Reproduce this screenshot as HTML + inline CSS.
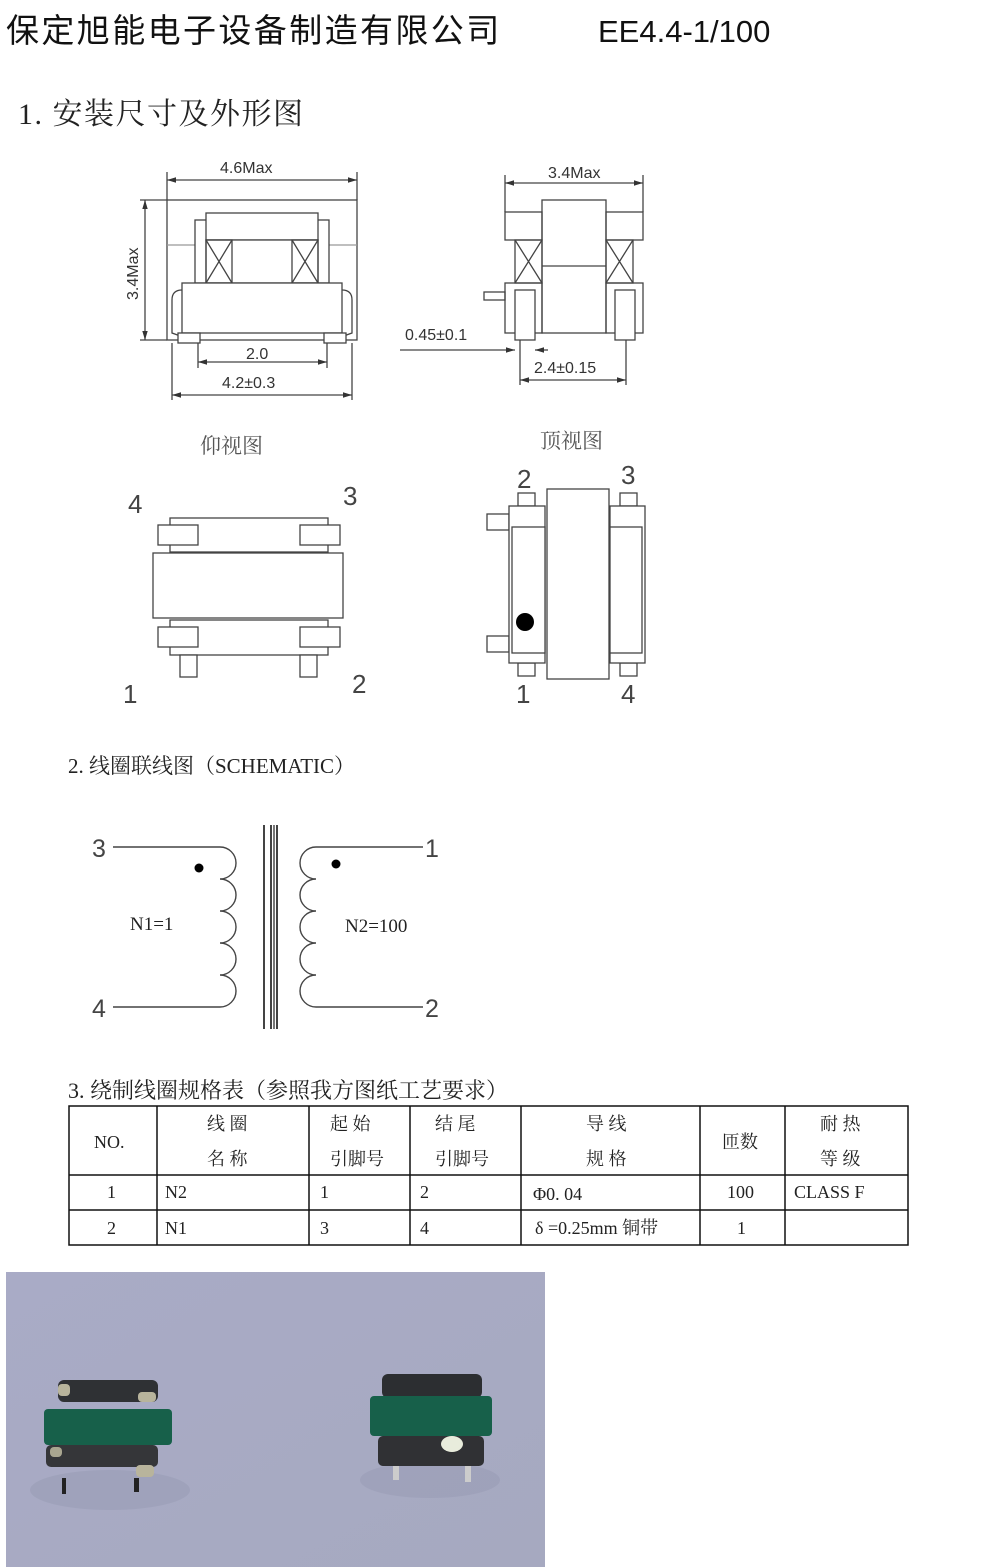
<!DOCTYPE html>
<html><head><meta charset="utf-8"><style>
html,body{margin:0;padding:0;background:#fff}
svg{display:block}
text{font-family:"Liberation Sans","Noto Sans CJK SC",sans-serif}
.s, .s text{font-family:"Liberation Serif","Noto Serif CJK SC",serif}
</style></head><body>
<svg width="1000" height="1567" viewBox="0 0 1000 1567" xmlns="http://www.w3.org/2000/svg">
<defs>
<marker id="a" viewBox="0 0 10 10" refX="10" refY="5" markerWidth="7" markerHeight="7" orient="auto-start-reverse"><path d="M0,2 L10,5 L0,8z" fill="#333"/></marker>
<linearGradient id="pg" x1="0" y1="0" x2="1" y2="1"><stop offset="0" stop-color="#a9abc6"/><stop offset="1" stop-color="#a6a9c0"/></linearGradient>
</defs>
<text x="6" y="42" font-size="33" letter-spacing="2.4" fill="#111" font-family="'Noto Sans CJK SC',sans-serif">保定旭能电子设备制造有限公司</text>
<text x="598" y="42" font-size="31" fill="#111">EE4.4-1/100</text>
<text x="18" y="124" font-size="30" letter-spacing="1.5" fill="#222" class="s">1. 安装尺寸及外形图</text>

<g fill="none" stroke="#444" stroke-width="1.3">
<rect x="167" y="200" width="190" height="140"/>
<line x1="167" y1="245" x2="357" y2="245" stroke="#999"/>
<rect x="195" y="220" width="134" height="63" fill="#fff"/>
<rect x="206" y="213" width="112" height="27" fill="#fff"/>
<rect x="206" y="240" width="112" height="43" fill="#fff"/>
<rect x="206" y="240" width="26" height="43"/><path d="M206,240L232,283M232,240L206,283"/>
<rect x="292" y="240" width="26" height="43"/><path d="M292,240L318,283M318,240L292,283"/>
<path d="M182,290 Q172,290 172,300 L172,333 L200,343" />
<path d="M342,290 Q352,290 352,300 L352,333 L324,343"/>
<rect x="182" y="283" width="160" height="50" fill="#fff"/>
<rect x="178" y="333" width="22" height="10" fill="#fff"/><rect x="324" y="333" width="22" height="10" fill="#fff"/>
<line x1="167" y1="180" x2="357" y2="180" marker-start="url(#a)" marker-end="url(#a)"/>
<line x1="167" y1="172" x2="167" y2="200"/><line x1="357" y1="172" x2="357" y2="200"/>
<line x1="145" y1="200" x2="145" y2="340" marker-start="url(#a)" marker-end="url(#a)"/>
<line x1="140" y1="200" x2="167" y2="200"/><line x1="140" y1="340" x2="167" y2="340"/>
<line x1="198" y1="362" x2="327" y2="362" marker-start="url(#a)" marker-end="url(#a)"/>
<line x1="198" y1="343" x2="198" y2="368"/><line x1="327" y1="343" x2="327" y2="368"/>
<line x1="172" y1="395" x2="352" y2="395" marker-start="url(#a)" marker-end="url(#a)"/>
<line x1="172" y1="343" x2="172" y2="400"/><line x1="352" y1="343" x2="352" y2="400"/>
<rect x="542" y="200" width="64" height="133" fill="#fff"/>
<line x1="542" y1="266" x2="606" y2="266"/>
<rect x="505" y="212" width="37" height="28"/><rect x="606" y="212" width="37" height="28"/>
<rect x="515" y="240" width="27" height="43"/><path d="M515,240L542,283M542,240L515,283"/>
<rect x="606" y="240" width="27" height="43"/><path d="M606,240L633,283M633,240L606,283"/>
<rect x="505" y="283" width="37" height="50"/><rect x="606" y="283" width="37" height="50"/>
<rect x="515" y="290" width="20" height="50" fill="#fff"/><rect x="615" y="290" width="20" height="50" fill="#fff"/>
<rect x="484" y="292" width="21" height="8"/>
<line x1="505" y1="183" x2="643" y2="183" marker-start="url(#a)" marker-end="url(#a)"/>
<line x1="505" y1="175" x2="505" y2="212"/><line x1="643" y1="175" x2="643" y2="212"/>
<line x1="400" y1="350" x2="515" y2="350" marker-end="url(#a)"/>
<line x1="548" y1="350" x2="535" y2="350" marker-end="url(#a)"/>
<line x1="520" y1="340" x2="520" y2="385"/><line x1="626" y1="340" x2="626" y2="385"/>
<line x1="520" y1="380" x2="626" y2="380" marker-start="url(#a)" marker-end="url(#a)"/>
</g>
<g font-size="16" fill="#333">
<text x="220" y="173">4.6Max</text>
<text x="548" y="178">3.4Max</text>
<text x="138" y="300" transform="rotate(-90 138 300)">3.4Max</text>
<text x="246" y="359">2.0</text>
<text x="222" y="388">4.2±0.3</text>
<text x="405" y="340">0.45±0.1</text>
<text x="534" y="373">2.4±0.15</text>
</g>
<text x="200" y="453" font-size="21" fill="#555" class="s">仰视图</text>
<text x="540" y="448" font-size="21" fill="#555" class="s">顶视图</text>

<g fill="#fff" stroke="#444" stroke-width="1.3">
<rect x="170" y="518" width="158" height="34"/>
<rect x="158" y="525" width="40" height="20"/><rect x="300" y="525" width="40" height="20"/>
<rect x="153" y="553" width="190" height="65"/>
<rect x="170" y="620" width="158" height="35"/>
<rect x="158" y="627" width="40" height="20"/><rect x="300" y="627" width="40" height="20"/>
<rect x="180" y="655" width="17" height="22"/><rect x="300" y="655" width="17" height="22"/>
<rect x="518" y="493" width="17" height="13"/><rect x="620" y="493" width="17" height="13"/>
<rect x="518" y="663" width="17" height="13"/><rect x="620" y="663" width="17" height="13"/>
<rect x="487" y="514" width="22" height="16"/><rect x="487" y="636" width="22" height="16"/>
<rect x="509" y="506" width="36" height="157"/>
<rect x="512" y="527" width="33" height="126"/>
<rect x="610" y="506" width="35" height="157"/>
<rect x="610" y="527" width="32" height="126"/>
<rect x="547" y="489" width="62" height="190"/>
</g>
<circle cx="525" cy="622" r="9" fill="#000"/>
<g font-size="26" fill="#444">
<text x="128" y="513">4</text><text x="343" y="505">3</text>
<text x="123" y="703">1</text><text x="352" y="693">2</text>
<text x="517" y="488">2</text><text x="621" y="484">3</text>
<text x="516" y="703">1</text><text x="621" y="703">4</text>
</g>

<text x="68" y="773" font-size="21" fill="#222" class="s">2. 线圈联线图（SCHEMATIC）</text>
<g fill="none" stroke="#444" stroke-width="1.4">
<path d="M113,847 L220,847 a16,16 0 0 1 0,32 a16,16 0 0 1 0,32 a16,16 0 0 1 0,32 a16,16 0 0 1 0,32 a16,16 0 0 1 0,32 L113,1007"/>
<path d="M423,847 L316,847 a16,16 0 0 0 0,32 a16,16 0 0 0 0,32 a16,16 0 0 0 0,32 a16,16 0 0 0 0,32 a16,16 0 0 0 0,32 L423,1007"/>
<line x1="264" y1="825" x2="264" y2="1029" stroke-width="2"/>
<line x1="271" y1="825" x2="271" y2="1029" stroke-width="2"/>
<line x1="274" y1="825" x2="274" y2="1029" stroke-width="2" stroke="#777"/>
<line x1="277" y1="825" x2="277" y2="1029" stroke-width="2"/>
</g>
<circle cx="199" cy="868" r="4.5" fill="#000"/><circle cx="336" cy="864" r="4.5" fill="#000"/>
<g font-size="25" fill="#444"><text x="92" y="857">3</text><text x="92" y="1017">4</text><text x="425" y="857">1</text><text x="425" y="1017">2</text></g>
<text x="130" y="930" font-size="19" fill="#222" class="s">N1=1</text>
<text x="345" y="932" font-size="19" fill="#222" class="s">N2=100</text>

<text x="68" y="1098" font-size="22" fill="#222" class="s">3. 绕制线圈规格表（参照我方图纸工艺要求）</text>
<g stroke="#111" stroke-width="1.5" fill="none">
<rect x="69" y="1106" width="839" height="139"/>
<line x1="69" y1="1175" x2="908" y2="1175"/><line x1="69" y1="1210" x2="908" y2="1210"/>
<line x1="157" y1="1106" x2="157" y2="1245"/><line x1="309" y1="1106" x2="309" y2="1245"/>
<line x1="410" y1="1106" x2="410" y2="1245"/><line x1="521" y1="1106" x2="521" y2="1245"/>
<line x1="700" y1="1106" x2="700" y2="1245"/><line x1="785" y1="1106" x2="785" y2="1245"/>
</g>
<g font-size="18" fill="#222" class="s">
<text x="94" y="1148">NO.</text>
<text x="207" y="1130">线 圈</text><text x="207" y="1165">名 称</text>
<text x="330" y="1130">起 始</text><text x="330" y="1165">引脚号</text>
<text x="435" y="1130">结 尾</text><text x="435" y="1165">引脚号</text>
<text x="586" y="1130">导 线</text><text x="586" y="1165">规 格</text>
<text x="722" y="1148">匝数</text>
<text x="820" y="1130">耐 热</text><text x="820" y="1165">等 级</text>
<text x="107" y="1198">1</text><text x="165" y="1198">N2</text><text x="320" y="1198">1</text><text x="420" y="1198">2</text>
<text x="533" y="1200">Φ0. 04</text><text x="727" y="1198">100</text><text x="794" y="1198">CLASS F</text>
<text x="107" y="1234">2</text><text x="165" y="1234">N1</text><text x="320" y="1234">3</text><text x="420" y="1234">4</text>
<text x="535" y="1234">δ =0.25mm 铜带</text><text x="737" y="1234">1</text>
</g>

<rect x="6" y="1272" width="539" height="295" fill="url(#pg)"/>
<ellipse cx="110" cy="1490" rx="80" ry="20" fill="#9a9cb5" opacity="0.6"/>
<ellipse cx="430" cy="1480" rx="70" ry="18" fill="#9a9cb5" opacity="0.6"/>
<rect x="58" y="1380" width="100" height="22" rx="6" fill="#2f3134"/>
<rect x="58" y="1384" width="12" height="12" rx="4" fill="#b8b49c"/><rect x="138" y="1392" width="18" height="10" rx="4" fill="#b8b49c"/>
<rect x="44" y="1409" width="128" height="36" rx="4" fill="#17604a"/>
<rect x="46" y="1445" width="112" height="22" rx="5" fill="#353639"/>
<rect x="50" y="1447" width="12" height="10" rx="4" fill="#a9a690"/><rect x="136" y="1465" width="18" height="12" rx="4" fill="#b8b49c"/>
<rect x="62" y="1478" width="4" height="16" fill="#222"/><rect x="134" y="1478" width="5" height="14" fill="#222"/>
<rect x="382" y="1374" width="100" height="24" rx="6" fill="#2c2e31"/>
<rect x="370" y="1396" width="122" height="40" rx="4" fill="#17604a"/>
<rect x="378" y="1436" width="106" height="30" rx="5" fill="#303134"/>
<ellipse cx="452" cy="1444" rx="11" ry="8" fill="#e8ecdc"/>
<rect x="393" y="1466" width="6" height="14" fill="#ccc"/><rect x="465" y="1466" width="6" height="16" fill="#ccc"/>
</svg>
</body></html>
